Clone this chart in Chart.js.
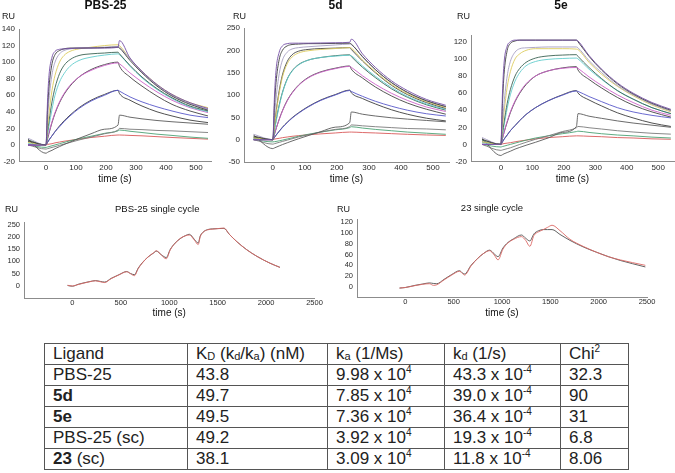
<!DOCTYPE html>
<html>
<head>
<meta charset="utf-8">
<script src="https://cdn.jsdelivr.net/npm/chart.js@4.4.1/dist/chart.umd.min.js"></script>
<style>
  body { margin: 0; background: #fff; width: 675px; height: 473px; position: relative; overflow: hidden; font-family: Arial, "Liberation Sans", sans-serif; }
  canvas { position: absolute; }
  #kinetics { position: absolute; left: 44px; top: 343px; width: 584px; table-layout: fixed; border-collapse: collapse; font-size: 17px; color: #222; }
  #kinetics td { border: 1px solid #555; height: 20px; line-height: 20px; padding: 0 0 0 8px; white-space: nowrap; overflow: hidden; }
  #kinetics sub { font-size: 11px; line-height: 0; vertical-align: -1px; }
  #kinetics sup { font-size: 10px; line-height: 0; vertical-align: 7px; }
</style>
</head>
<body>
<canvas id="pbs25" width="220" height="190" style="left:0;top:0"></canvas>
<canvas id="cmp5d" width="230" height="190" style="left:222px;top:0"></canvas>
<canvas id="cmp5e" width="227" height="190" style="left:448px;top:0"></canvas>
<canvas id="scPbs" width="330" height="124" style="left:0;top:198px"></canvas>
<canvas id="sc23" width="323" height="124" style="left:337px;top:198px"></canvas>
<table id="kinetics">
  <colgroup><col style="width:143px"><col style="width:140px"><col style="width:117px"><col style="width:116px"><col style="width:68px"></colgroup>
  <tbody></tbody>
</table>
<script>
// multi cycle sensorgrams (time in s, response in RU)
const topTimes = [-60, 0, 5, 10, 20, 30, 45, 60, 80, 110, 150, 195, 240, 245, 280, 320, 370, 420, 480, 540]

const pbs25Curves = [
  [0, 0, 52, 84, 106, 113, 115.5, 116, 116.5, 117, 117, 117, 118, 126, 105, 89, 73, 61, 51, 44],
  [5, 0, 42, 70, 98, 109, 114, 116, 117, 117, 117, 117.5, 118, 117, 102, 87, 71, 59, 49, 42],
  [8, 0, 30, 55, 85, 100, 110, 114, 116, 117, 117.5, 118, 119, 118, 104, 88, 72, 60, 50, 43],
  [3, 0, 20, 38, 66, 84, 100, 108, 113, 116, 118, 120, 121, 120, 104, 89, 73, 61, 51, 45],
  [6, 0, 15, 29, 52, 69, 86, 96, 103, 108, 110, 111, 112, 110, 96, 82, 68, 57, 47, 41],
  [2, 0, 12, 23, 43, 60, 76, 86, 95, 102, 106, 108.5, 110, 109, 95, 81, 67, 56, 46, 40],
  [0, 0, 8, 15, 28, 39, 52, 62, 72, 82, 90, 96, 99, 98, 87, 76, 64, 54, 45, 39],
  [4, 0, 7, 14, 27, 38, 51, 61, 71, 82, 91, 97, 100, 95, 82, 71, 59, 49, 41, 35],
  [0, 0, 3, 6, 11, 16, 22, 28, 35, 44, 53, 60, 66, 65, 58, 52, 46, 41, 36, 33],
  [0, 0, 3, 6, 11, 16, 23, 29, 36, 45, 54, 61, 66, 62, 54, 47, 40, 35, 30, 27],
  [7, -10, -9, -8, -6.5, -4.5, -2, 0.5, 3.5, 8, 13.5, 19, 24, 36, 33.5, 31.5, 29.5, 28, 26.5, 25],
  [0, -5, -4.5, -4, -3, -2, -0.5, 1, 3, 6, 9.5, 13.5, 18, 20, 19, 18.5, 17.5, 17, 16, 15],
  [0, -3, -2.5, -2, -1, 0, 1.5, 3, 5, 7.5, 10.5, 14, 17, 18, 16.5, 15, 13, 11.5, 9.5, 8],
  [0, 0, 0.5, 1, 1.5, 2.5, 3.5, 4.5, 5.5, 7, 9, 10.5, 12, 12, 11.5, 11, 10, 9, 8, 7]
]

const curves5d = [
  [0, 0, 95, 155, 196, 210, 215, 216, 216, 216, 216.5, 217, 218, 225, 192, 162, 132, 110, 90, 77],
  [8, 0, 75, 128, 180, 200, 210, 213, 214, 215, 215, 215.5, 216, 214, 186, 157, 128, 106, 87, 74],
  [12, 0, 50, 92, 148, 178, 196, 203, 206, 208, 210, 212, 214, 213, 185, 157, 128, 106, 87, 74],
  [4, 0, 30, 58, 105, 140, 170, 185, 194, 199, 202, 204, 206, 205, 178, 152, 124, 103, 85, 72],
  [6, 0, 32, 62, 110, 145, 175, 190, 198, 202, 204, 205, 206, 202, 176, 150, 122, 101, 83, 70],
  [2, 0, 20, 40, 75, 104, 135, 153, 167, 178, 184, 187, 189, 188, 165, 142, 117, 97, 80, 68],
  [5, 0, 22, 43, 78, 106, 136, 154, 168, 178, 184, 188, 190, 186, 162, 139, 114, 95, 78, 66],
  [0, 0, 12, 24, 45, 64, 87, 104, 121, 138, 151, 159, 164, 162, 143, 124, 104, 88, 73, 63],
  [3, 0, 12, 24, 46, 65, 88, 105, 122, 139, 152, 160, 165, 158, 138, 118, 98, 82, 68, 57],
  [0, 0, 5, 10, 19, 27, 38, 48, 59, 73, 88, 100, 110, 108, 97, 86, 75, 66, 58, 53],
  [0, 0, 5, 10, 19, 28, 39, 49, 60, 74, 89, 101, 111, 105, 92, 80, 67, 57, 48, 42],
  [10, -20, -18.5, -17, -14, -11, -7, -3, 2, 9, 18, 28, 38, 62, 57, 53, 49, 46, 43, 40],
  [0, -10, -9, -8, -6, -4, -1, 2, 6, 11, 17, 23, 29, 33, 31, 29, 27, 25, 24, 22],
  [0, -5, -4.5, -4, -2.5, -1, 1.5, 4, 7.5, 12, 17, 22, 27, 29, 26, 23, 20, 17, 14.5, 12],
  [0, 0, 1, 2, 3, 4.5, 6, 7.5, 9, 11, 13, 15, 17, 17, 16, 15, 13.5, 12, 10.5, 9.5]
]

const curves5e = [
  [0, 0, 60, 95, 115, 120, 122, 122, 122, 122, 122, 122, 122, 121, 104, 88, 72, 60, 49, 41],
  [6, 0, 48, 82, 110, 118, 121, 122, 122, 122, 122, 122, 122, 120, 103, 87, 71, 59, 48, 40],
  [8, 0, 25, 48, 80, 97, 108, 112, 113, 113.5, 114, 114, 114, 113, 98, 84, 69, 58, 47, 39],
  [3, 0, 20, 38, 67, 85, 100, 106, 110, 112, 112, 112, 111.5, 111, 96, 82, 68, 57, 46, 38],
  [5, 0, 13, 26, 48, 64, 80, 89, 96, 101, 103.5, 104.5, 105, 103, 90, 77, 63, 53, 43, 36],
  [2, 0, 11, 22, 42, 58, 74, 84, 92, 97, 99.5, 100.5, 101, 100, 88, 76, 63, 53, 43, 36],
  [0, 0, 7, 14, 27, 38, 51, 61, 71, 80, 86, 89, 90, 89, 79, 69, 58, 49, 40, 34],
  [3, 0, 7, 14, 26, 37, 50, 60, 70, 80, 86, 89.5, 91, 87, 76, 66, 55, 46, 38, 32],
  [0, 0, 3, 6, 11, 16, 22, 28, 35, 43, 51, 57.5, 62.5, 62, 56, 50, 43, 38, 34, 31],
  [0, 0, 3, 6, 11, 16, 22, 28, 35, 43, 51, 58, 63, 60, 52, 45, 37, 31, 25, 21],
  [7, -13, -12, -11, -9.5, -8, -5.5, -3.5, -1, 2.5, 7.5, 14, 21, 36, 33, 30.5, 27.5, 25, 22.5, 20],
  [0, -7, -6.5, -6, -5, -4, -2, 0, 2.5, 6, 10, 15, 19.5, 21, 19.5, 18, 16, 14.5, 13, 12],
  [0, -3, -2.5, -2, -1, 0, 1.5, 3, 5, 7.5, 10, 12.5, 15, 15.5, 14, 12.5, 11, 10, 8.5, 7.5],
  [0, 0, 0.5, 1, 1.5, 2, 3, 4, 5, 6.5, 8, 9, 10, 10, 9.5, 9, 8, 7.5, 6.5, 6]
]

const topTimeTicks = [0, 100, 200, 300, 400, 500]
const pbs25Ticks = [-20, 0, 20, 40, 60, 80, 100, 120, 140]
const ticks5d = [-50, 0, 50, 100, 150, 200, 250]
const ticks5e = [-20, 0, 20, 40, 60, 80, 100, 120]

// single cycle runs
const scPbsTimes = [-50, 0, 60, 120, 180, 238, 290, 333, 400, 480, 561, 600, 640, 680, 720, 780, 840, 867, 920, 969, 1010, 1060, 1120, 1170, 1207, 1260, 1299, 1320, 1350, 1395, 1450, 1500, 1565, 1620, 1700, 1800, 1905, 2040, 2143]
const scPbsFit = [1, -2, 6, 12, 17, 21, 17.5, 15, 30, 45, 58, 50, 45, 72, 93, 117, 134, 141, 126, 115, 148, 174, 194, 205, 210, 189, 174, 203, 219, 229, 232, 233, 234, 210, 179, 147, 120, 92, 75]
const scPbsData = [2, -1, 5, 11, 16.5, 20, 16, 13, 29, 44, 57, 49, 41, 70, 92, 117, 135, 143, 124, 110, 146, 173, 195, 204, 207, 186, 168, 200, 218, 228, 231, 233, 235, 210, 179, 147, 120, 92, 75]

const sc23Times = [-60, 0, 100, 180, 249, 290, 325, 400, 480, 561, 590, 613, 680, 750, 810, 872, 920, 959, 1010, 1060, 1120, 1201, 1245, 1288, 1330, 1380, 1427, 1470, 1518, 1600, 1704, 1840, 1980, 2100, 2223, 2350, 2483]
const sc23Fit = [-2, -1, 3, 5.5, 7.5, 6.5, 6, 14, 23, 30, 26, 24, 40, 53, 62, 68, 61, 56, 72, 82, 89, 96, 90, 85, 98, 104, 106, 106, 106, 97, 86, 74, 64, 56, 49, 43, 37]
const sc23Data = [-2, -1, 2.5, 5, 6, 3, 4, 13, 22, 29, 25, 22, 39, 53, 62, 67, 59, 50, 70, 81, 88, 93, 86, 75, 95, 102, 106, 110, 114, 104, 88, 75, 64, 56, 50, 45, 40]

const scTimeTicks = [0, 500, 1000, 1500, 2000, 2500]
const scPbsTicks = [0, 50, 100, 150, 200, 250]
const sc23Ticks = [0, 20, 40, 60, 80, 100, 120]

// kinetics table
const ligands = ['PBS-25', '<b>5d</b>', '<b>5e</b>', 'PBS-25 (sc)', '<b>23</b> (sc)']
const KD = ['43.8', '49.7', '49.5', '49.2', '38.1']
const ka = ['9.98', '7.85', '7.36', '3.92', '3.09']
const kd = ['43.3', '39.0', '36.4', '19.3', '11.8']
const chi2 = ['32.3', '90', '31', '6.8', '8.06']

const topColors = ['#7550a6', '#3d3d3d', '#a69ec2', '#ddcc5e', '#3a6252', '#62cdcd', '#cd62c9', '#444444', '#5858c9', '#3d3d3d', '#5a5a5a', '#7a7a7a', '#4ca274', '#d95959']
const colors5d = ['#7550a6', '#3d3d3d', '#a69ec2', '#ddcc5e', '#444444', '#62cdcd', '#3a6252', '#cd62c9', '#444444', '#5858c9', '#3d3d3d', '#5a5a5a', '#7a7a7a', '#4ca274', '#d95959']

const ruLabel = {
  id: 'ruLabel',
  afterDraw(chart, args, opts) {
    const ctx = chart.ctx
    ctx.save()
    ctx.font = '9px Arial, "Liberation Sans", sans-serif'
    ctx.fillStyle = '#1a1a1a'
    ctx.textBaseline = 'middle'
    ctx.fillText('RU', opts.x, opts.y)
    ctx.restore()
  }
}

function curveSets(times, curves, colors) {
  return curves.map((vals, i) => ({
    data: times.map((t, j) => ({ x: t, y: vals[j] })),
    borderColor: colors[i],
    borderWidth: 0.9,
    pointRadius: 0,
    fill: false,
    cubicInterpolationMode: 'monotone'
  }))
}

function makeChart(id, c) {
  const tickFont = { family: 'Arial, "Liberation Sans", sans-serif', size: c.tickSize }
  return new Chart(document.getElementById(id), {
    type: 'line',
    data: { datasets: c.datasets },
    options: {
      responsive: false,
      animation: false,
      events: [],
      layout: { padding: { left: 0, right: c.padRight, top: 0, bottom: 0 } },
      plugins: {
        legend: { display: false },
        tooltip: { enabled: false },
        title: { display: true, text: c.title, color: '#111', font: c.titleFont, padding: c.titlePad },
        ruLabel: c.ru
      },
      scales: {
        x: {
          type: 'linear', min: c.xMin, max: c.xMax,
          grid: { display: false, drawTicks: false },
          border: { display: true, color: '#8c8c8c', width: 1 },
          afterBuildTicks: s => { s.ticks = c.xTicks.map(v => ({ value: v })) },
          afterFit: s => { s.height = c.xHeight },
          ticks: { font: tickFont, color: '#2a2a2a', padding: c.xTickPad, maxRotation: 0, autoSkip: false, callback: v => String(v) },
          title: { display: true, text: 'time (s)', color: '#111', font: { family: 'Arial, "Liberation Sans", sans-serif', size: 10, lineHeight: 1 }, padding: { top: 0, bottom: c.xTitlePad } }
        },
        y: {
          type: 'linear', min: c.yMin, max: c.yMax,
          grid: { display: false, drawTicks: false },
          border: { display: true, color: '#8c8c8c', width: 1 },
          afterBuildTicks: s => { s.ticks = c.yTicks.map(v => ({ value: v })) },
          afterFit: s => { s.width = c.yWidth },
          ticks: { font: tickFont, color: '#2a2a2a', padding: 4, autoSkip: false, callback: v => String(v) }
        }
      }
    },
    plugins: [ruLabel]
  })
}

const bigTitle = { family: 'Arial, "Liberation Sans", sans-serif', size: 12, weight: 'bold', lineHeight: 1 }
const smallTitle = { family: 'Arial, "Liberation Sans", sans-serif', size: 9.5, weight: 'normal', lineHeight: 1 }

makeChart('pbs25', {
  datasets: curveSets(topTimes, pbs25Curves, topColors), title: 'PBS-25', titleFont: bigTitle,
  titlePad: { top: 0, bottom: 17 }, padRight: 9, yWidth: 19, xHeight: 28.5, xTitlePad: 6, xTickPad: 1, tickSize: 8,
  xMin: -90, xMax: 550, yMin: -20, yMax: 140, xTicks: topTimeTicks, yTicks: pbs25Ticks, ru: { x: 2, y: 17 }
})

makeChart('cmp5d', {
  datasets: curveSets(topTimes, curves5d, colors5d), title: '5d', titleFont: bigTitle,
  titlePad: { top: 0, bottom: 16 }, padRight: 3, yWidth: 22, xHeight: 28, xTitlePad: 6, xTickPad: 1, tickSize: 8,
  xMin: -90, xMax: 550, yMin: -50, yMax: 250, xTicks: topTimeTicks, yTicks: ticks5d, ru: { x: 11, y: 17 }
})

makeChart('cmp5e', {
  datasets: curveSets(topTimes, curves5e, topColors), title: '5e', titleFont: bigTitle,
  titlePad: { top: 0, bottom: 23 }, padRight: 1, yWidth: 23, xHeight: 28.5, xTitlePad: 6, xTickPad: 1, tickSize: 8,
  xMin: -95, xMax: 550, yMin: -20, yMax: 128, xTicks: topTimeTicks, yTicks: ticks5e, ru: { x: 9, y: 16.5 }
})

makeChart('scPbs', {
  datasets: curveSets(scPbsTimes, [scPbsData, scPbsFit], ['#dc6a66', '#505050']), title: 'PBS-25 single cycle', titleFont: smallTitle,
  titlePad: { top: 7, bottom: 7.5 }, padRight: 15.5, yWidth: 24, xHeight: 24, xTitlePad: 3.5, xTickPad: 0, tickSize: 7.5,
  xMin: -500, xMax: 2500, yMin: -50, yMax: 260, xTicks: scTimeTicks, yTicks: scPbsTicks, ru: { x: 5, y: 12 }
})

makeChart('sc23', {
  datasets: curveSets(sc23Times, [sc23Data, sc23Fit], ['#dc6a66', '#505050']), title: '23 single cycle', titleFont: smallTitle,
  titlePad: { top: 6, bottom: 5.8 }, padRight: 13, yWidth: 20, xHeight: 24.2, xTitlePad: 3.5, xTickPad: 0, tickSize: 7.5,
  xMin: -500, xMax: 2500, yMin: -20, yMax: 125, xTicks: scTimeTicks, yTicks: sc23Ticks, ru: { x: 0, y: 12 }
})

const rows = ['<tr><td>Ligand</td><td>K<sub>D</sub> (k<sub>d</sub>/k<sub>a</sub>) (nM)</td><td>k<sub>a</sub> (1/Ms)</td><td>k<sub>d</sub> (1/s)</td><td>Chi<sup>2</sup></td></tr>']
ligands.forEach((name, i) => {
  rows.push('<tr><td>' + name + '</td><td>' + KD[i] + '</td><td>' + ka[i] + ' x 10<sup>4</sup></td><td>' + kd[i] + ' x 10<sup>-4</sup></td><td>' + chi2[i] + '</td></tr>')
})
document.querySelector('#kinetics tbody').innerHTML = rows.join('')
</script>
</body>
</html>
